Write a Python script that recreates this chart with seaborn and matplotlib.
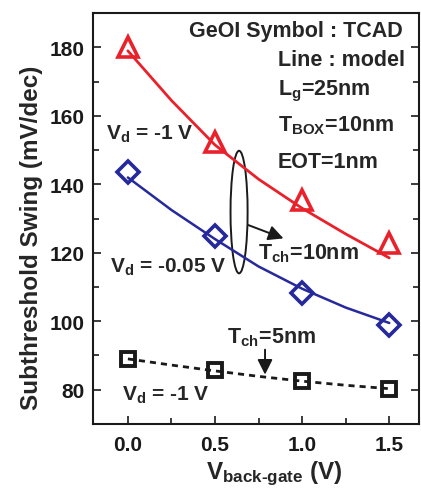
import numpy as np
import pandas as pd
import matplotlib
matplotlib.use('Agg')
import matplotlib.pyplot as plt
from matplotlib.patches import Ellipse
import seaborn as sns

sns.set_style("ticks")
plt.rcParams['font.family'] = ['Liberation Sans', 'DejaVu Sans']
plt.rcParams['font.weight'] = 'bold'
plt.rcParams['mathtext.fontset'] = 'custom'
plt.rcParams['mathtext.rm'] = 'Liberation Sans:bold'
plt.rcParams['mathtext.it'] = 'Liberation Sans:bold'
plt.rcParams['mathtext.bf'] = 'Liberation Sans:bold'
plt.rcParams['mathtext.sf'] = 'Liberation Sans:bold'

RED = '#e8212b'
BLUE = '#26299b'
BLACK = '#1a1a1a'

# --- TCAD points (symbols) ---
vbg_tcad = [0.0, 0.5, 1.0, 1.5]
ss_tcad_10nm_vd1 = [180.0, 152.5, 135.5, 123.0]
ss_tcad_10nm_vd005 = [143.7, 124.8, 108.2, 98.8]
ss_tcad_5nm_vd1 = [89.0, 85.8, 82.6, 80.3]

# --- model curves (lines) ---
vbg_model = [0.0, 0.25, 0.5, 0.75, 1.0, 1.25, 1.5]
ss_model_10nm_vd1 = [179.0, 164.5, 151.5, 141.5, 133.0, 125.5, 118.5]
ss_model_10nm_vd005 = [142.0, 132.5, 124.0, 116.0, 109.5, 104.0, 99.5]
ss_model_5nm_vd1 = [89.0, 87.2, 85.5, 83.9, 82.5, 81.3, 80.3]

fig = plt.figure(figsize=(4.21, 4.89), dpi=100)
ax = fig.add_axes([0.221, 0.131, 0.774, 0.840])

# model lines
sns.lineplot(x=vbg_model, y=ss_model_10nm_vd1, color=RED, lw=2.0, ax=ax)
sns.lineplot(x=vbg_model, y=ss_model_10nm_vd005, color=BLUE, lw=1.8, ax=ax)
sns.lineplot(x=vbg_model, y=ss_model_5nm_vd1, color=BLACK, lw=2.0,
             linestyle=(0, (2.2, 1.8)), ax=ax)

# TCAD symbols
sns.lineplot(x=vbg_tcad, y=ss_tcad_10nm_vd1, linestyle='', marker='^', ms=15,
             mfc='none', mec=RED, mew=2.6, ax=ax)
sns.lineplot(x=vbg_tcad, y=ss_tcad_10nm_vd005, linestyle='', marker='D', ms=11.5,
             mfc='none', mec=BLUE, mew=2.6, ax=ax)
sns.lineplot(x=vbg_tcad, y=ss_tcad_5nm_vd1, linestyle='', marker='s', ms=10,
             mfc='none', mec=BLACK, mew=2.8, ax=ax)

ax.set_xlim(-0.2, 1.67)
ax.set_ylim(70, 190)
ax.set_xticks([0.0, 0.5, 1.0, 1.5])
ax.set_xticklabels(['0.0', '0.5', '1.0', '1.5'])
ax.set_xticks([0.25, 0.75, 1.25], minor=True)
ax.set_yticks([80, 100, 120, 140, 160, 180])
ax.set_yticks([90, 110, 130, 150, 170], minor=True)
ax.tick_params(which='both', direction='in', right=True, width=1.2, colors=BLACK)
ax.tick_params(which='major', length=6)
ax.tick_params(which='minor', length=4)
ax.tick_params(axis='x', which='major', labelsize=15, pad=8)
ax.tick_params(axis='y', which='major', labelsize=15, pad=6)
for s in ax.spines.values():
    s.set_linewidth(1.5)
    s.set_color(BLACK)

ax.set_xlabel(r'V$_\mathrm{back\text{-}gate}$ (V)', fontsize=17.5, fontweight='bold')
ax.set_ylabel('Subthreshold Swing (mV/dec)', fontsize=17.5, fontweight='bold')
ax.xaxis.set_label_coords(0.557, -0.085)
ax.yaxis.set_label_coords(-0.155, 0.455)

# annotations
fs = 15.5
ax.text(1.575, 183.2, 'GeOI Symbol : TCAD', ha='right', va='baseline', fontsize=fs)
ax.text(0.862, 175.0, 'Line : model', ha='left', va='baseline', fontsize=fs)
ax.text(0.862, 166.3, r'L$_\mathrm{g}$=25nm', ha='left', va='baseline', fontsize=fs)
ax.text(0.862, 155.7, r'T$_\mathrm{BOX}$=10nm', ha='left', va='baseline', fontsize=fs)
ax.text(0.862, 145.1, 'EOT=1nm', ha='left', va='baseline', fontsize=fs)

ax.text(-0.126, 153.3, r'V$_\mathrm{d}$ = -1 V', ha='left', va='baseline', fontsize=15)
ax.text(-0.103, 114.6, r'V$_\mathrm{d}$ = -0.05 V', ha='left', va='baseline', fontsize=15)
ax.text(-0.036, 77.2, r'V$_\mathrm{d}$ = -1 V', ha='left', va='baseline', fontsize=15)
ax.text(0.747, 118.4, r'T$_\mathrm{ch}$=10nm', ha='left', va='baseline', fontsize=fs)
ax.text(0.567, 93.7, r'T$_\mathrm{ch}$=5nm', ha='left', va='baseline', fontsize=fs)

ax.add_patch(Ellipse((0.638, 131.9), width=0.098, height=35.8, fill=False,
                     edgecolor=BLACK, lw=1.4))
arrow = dict(arrowstyle='-|>,head_length=0.6,head_width=0.3', color=BLACK,
             lw=1.4, mutation_scale=15, shrinkA=0, shrinkB=0)
ax.annotate('', xy=(0.893, 124.2), xytext=(0.691, 128.1), arrowprops=arrow)
ax.annotate('', xy=(0.787, 84.4), xytext=(0.787, 91.7), arrowprops=arrow)

fig.savefig('out.png', dpi=100)
